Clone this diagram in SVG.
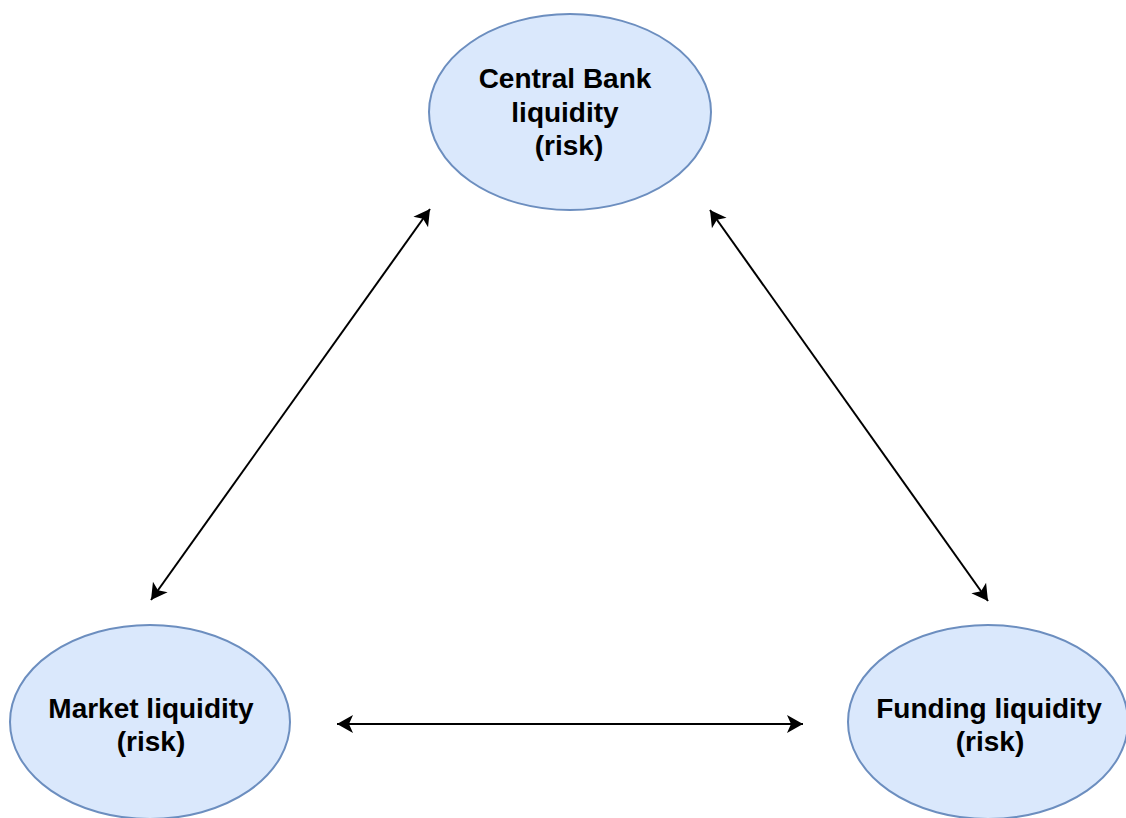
<svg xmlns="http://www.w3.org/2000/svg" width="1126" height="818" viewBox="0 0 1126 818">
<style>
.node ellipse{fill:#dae8fc;stroke:#6c8ebf;stroke-width:2}
.node text{font-family:"Liberation Sans",Arial,sans-serif;font-weight:bold;font-size:28px;fill:#000;text-anchor:middle}
.edge{stroke:#000;stroke-width:2;fill:none;marker-start:url(#arr);marker-end:url(#arr)}
</style>
<defs>
<marker id="arr" markerUnits="userSpaceOnUse" viewBox="-17 -10 18 20" markerWidth="18" markerHeight="20" refX="0" refY="0" orient="auto-start-reverse">
<path d="M0,0 L-16,-9 L-12,0 L-16,9 Z" fill="#000"/>
</marker>
</defs>
<rect width="1126" height="818" fill="#fff"/>
<g id="connectors">
<line class="edge" x1="151" y1="600" x2="430" y2="209"/>
<line class="edge" x1="710" y1="210" x2="988" y2="601"/>
<line class="edge" x1="337" y1="724" x2="803" y2="724"/>
</g>
<g id="central-bank" class="node">
<ellipse cx="570" cy="112" rx="141" ry="98"/>
<text x="565" y="88">Central Bank</text>
<text x="565" y="122">liquidity</text>
<text x="569" y="155">(risk)</text>
</g>
<g id="market" class="node">
<ellipse cx="150" cy="722" rx="140" ry="97"/>
<text x="151" y="718">Market liquidity</text>
<text x="151" y="751">(risk)</text>
</g>
<g id="funding" class="node">
<ellipse cx="988" cy="722" rx="140" ry="97"/>
<text x="989" y="718">Funding liquidity</text>
<text x="990" y="751">(risk)</text>
</g>
</svg>
